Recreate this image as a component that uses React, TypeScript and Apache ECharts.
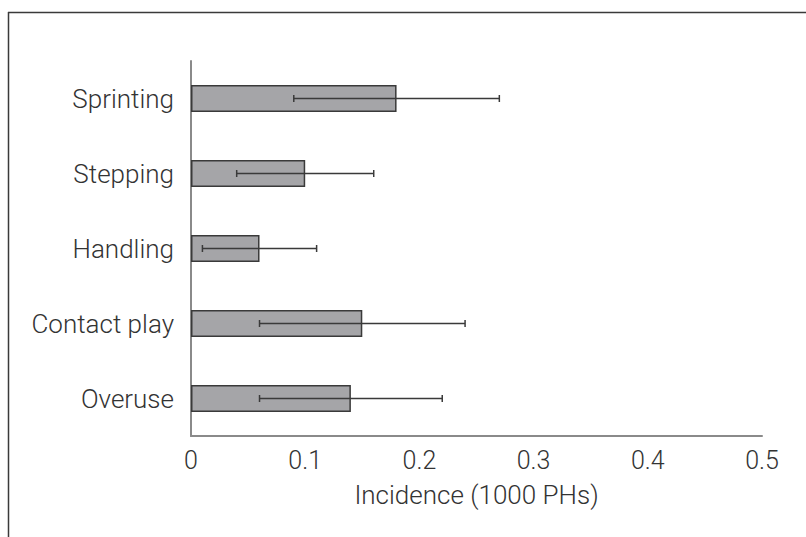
import React, { useEffect, useRef } from "react";
import * as echarts from "echarts";

const categories = ["Sprinting", "Stepping", "Handling", "Contact play", "Overuse"];
const incidence = [0.18, 0.1, 0.06, 0.15, 0.14];
const errLow = [0.09, 0.04, 0.01, 0.06, 0.06];
const errHigh = [0.27, 0.16, 0.11, 0.24, 0.22];
const xTicks = [0, 0.1, 0.2, 0.3, 0.4, 0.5];

export default function App() {
  const ref = useRef<HTMLDivElement>(null);
  useEffect(() => {
    if (!ref.current) return;
    const chart = echarts.init(ref.current, null, { renderer: "svg" });
    const font = "Roboto, 'Noto Sans', sans-serif";
    chart.setOption({
      animation: false,
      backgroundColor: "#ffffff",
      grid: { left: 191, right: 44, top: 61, bottom: 101 },
      xAxis: {
        type: "value",
        min: xTicks[0],
        max: xTicks[xTicks.length - 1],
        interval: 0.1,
        name: "Incidence (1000 PHs)",
        nameLocation: "middle",
        nameGap: 46,
        nameTextStyle: { fontSize: 26, color: "#333", fontFamily: font, fontWeight: 300 },
        axisLine: { show: true, lineStyle: { color: "#8a8a8a", width: 2 } },
        axisTick: { show: false },
        splitLine: { show: false },
        axisLabel: { fontSize: 25, color: "#333", fontFamily: font, fontWeight: 300, margin: 12 },
      },
      yAxis: {
        type: "category",
        data: categories,
        inverse: true,
        axisLine: { show: true, lineStyle: { color: "#8a8a8a", width: 2 } },
        axisTick: { show: false },
        axisLabel: { fontSize: 26, color: "#333", fontFamily: font, fontWeight: 300, margin: 17 },
      },
      series: [
        {
          type: "bar",
          data: incidence,
          barWidth: 27,
          itemStyle: { color: "#a5a5a8", borderColor: "#3a3a3a", borderWidth: 1.5 },
        },
        {
          type: "custom",
          data: categories.map((_, i) => [errLow[i], errHigh[i], i]),
          encode: { x: [0, 1], y: 2 },
          z: 5,
          renderItem: (params: any, api: any) => {
            const lo = api.coord([api.value(0), api.value(2)]);
            const hi = api.coord([api.value(1), api.value(2)]);
            const cap = 3.5;
            const st = { stroke: "#3a3a3a", lineWidth: 1.5 };
            return {
              type: "group",
              children: [
                { type: "line", shape: { x1: lo[0], y1: lo[1], x2: hi[0], y2: hi[1] }, style: st },
                { type: "line", shape: { x1: lo[0], y1: lo[1] - cap, x2: lo[0], y2: lo[1] + cap }, style: st },
                { type: "line", shape: { x1: hi[0], y1: hi[1] - cap, x2: hi[0], y2: hi[1] + cap }, style: st },
              ],
            };
          },
        },
      ],
      graphic: [
        { type: "line", shape: { x1: 8, y1: 12.5, x2: 806, y2: 12.5 }, style: { stroke: "#3a3a3a", lineWidth: 1.5 } },
        { type: "line", shape: { x1: 8.5, y1: 12, x2: 8.5, y2: 537 }, style: { stroke: "#3a3a3a", lineWidth: 1.5 } },
      ],
    });
    return () => chart.dispose();
  }, []);
  return <div ref={ref} style={{ position: "fixed", left: 0, top: 0, width: 806, height: 537 }} />;
}
